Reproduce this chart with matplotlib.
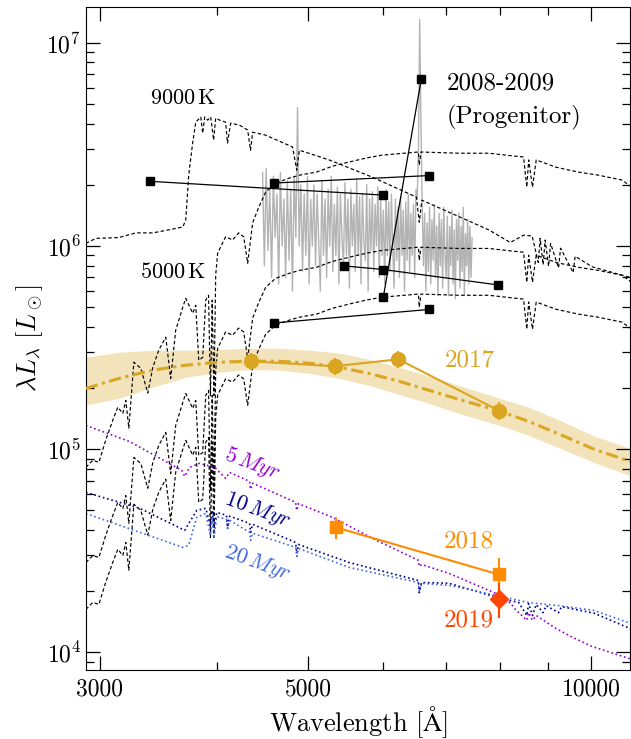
import numpy as np
import matplotlib.pyplot as plt
from matplotlib.ticker import FixedLocator, FixedFormatter, NullFormatter

plt.rcParams['font.family'] = 'serif'
plt.rcParams['font.serif'] = ['cmr10']
plt.rcParams['mathtext.fontset'] = 'cm'
plt.rcParams['axes.formatter.use_mathtext'] = True

# ----------------------------
# Data (wavelength in Angstrom, lambda L_lambda in L_sun)
# ----------------------------
# 9000 K model
hot_wave = [2899, 2971, 3143, 3277, 3416, 3551, 3676, 3703, 3730, 3767, 3795, 3842, 3860,
            3879, 3908, 3937, 3965, 3985, 4024, 4083, 4102, 4134, 4225, 4310, 4340, 4363,
            4504, 4811, 4861, 4892, 5264, 5851, 6517, 6563, 6605, 7782, 8204, 8474, 8655,
            8785, 8826, 8891, 8935, 9010, 9055, 9233, 9279, 9569, 9616, 10025, 11010]
hot_lum = [1.03e6, 1.09e6, 1.10e6, 1.16e6, 1.16e6, 1.20e6, 1.24e6, 1.34e6, 2.23e6, 3.24e6,
           4.07e6, 4.31e6, 3.59e6, 4.31e6, 4.16e6, 4.31e6, 3.32e6, 4.26e6, 4.16e6, 4.07e6,
           3.21e6, 4.02e6, 3.93e6, 3.72e6, 2.96e6, 3.63e6, 3.51e6, 3.07e6, 2.36e6, 2.96e6,
           2.65e6, 2.18e6, 1.74e6, 1.31e6, 1.68e6, 1.20e6, 1.04e6, 1.13e6, 1.12e6, 8.3e5,
           1.09e6, 8.1e5, 1.07e6, 7.95e5, 1.03e6, 7.8e5, 9.75e5, 7.4e5, 8.9e5, 7.9e5, 7.0e5]

# cool model (brightest copy), the two fainter ones have the same shape
cool_wave = [2899, 2949, 2993, 3044, 3097, 3135, 3174, 3197, 3221, 3261, 3317, 3374, 3416,
             3466, 3526, 3569, 3613, 3676, 3703, 3767, 3795, 3823, 3860, 3889, 3916, 3934,
             3951, 3968, 3985, 4004, 4083, 4154, 4216, 4268, 4310, 4363, 4428, 4504, 4616,
             4776, 4892, 5102, 5307, 5528, 5765, 5995, 6327, 6549, 6563, 6590, 7232, 7782,
             8282, 8474, 8542, 8581, 8662, 8742, 9178, 9695, 10180, 10788, 11010]
cool_lum = [8.14e4, 8.82e4, 8.62e4, 1.11e5, 1.39e5, 1.61e5, 1.50e5, 1.74e5, 1.27e5, 2.68e5,
            2.50e5, 1.89e5, 2.53e5, 3.07e5, 3.56e5, 2.23e5, 3.85e5, 4.99e5, 5.53e5, 4.67e5,
            5.11e5, 2.74e5, 2.83e5, 5.41e5, 5.72e5, 1.84e5, 5.41e5, 1.84e5, 7.18e5, 9.21e5,
            1.11e6, 1.07e6, 1.16e6, 1.11e6, 8.23e5, 1.30e6, 1.55e6, 1.84e6, 2.04e6, 2.16e6,
            2.23e6, 2.31e6, 2.47e6, 2.59e6, 2.71e6, 2.80e6, 2.86e6, 2.90e6, 2.50e6, 2.90e6,
            2.86e6, 2.86e6, 2.77e6, 2.74e6, 1.95e6, 2.65e6, 1.95e6, 2.65e6, 2.44e6, 2.31e6,
            2.23e6, 2.11e6, 1.97e6]
cool_scale = [1.0, 0.34, 0.20]

# progenitor spectrum (units of 1e6 L_sun), 4470-7470 A in 20 A steps
spec_lum = [2.3, 0.8, 2.4, 0.95, 1.9, 0.7, 2.2, 1.1, 1.8, 0.65,
            2.3, 1.0, 1.7, 0.7, 2.1, 0.85, 1.9, 0.6, 2.2, 1.1,
            4.8, 1.0, 2.0, 0.75, 1.8, 0.9, 2.2, 0.65, 1.7, 1.0,
            2.0, 0.8, 1.8, 1.05, 0.6, 2.1, 0.9, 1.7, 0.7, 1.9,
            1.0, 2.2, 0.75, 1.6, 0.9, 1.95, 0.65, 1.8, 1.1, 0.8,
            2.05, 0.9, 1.7, 0.62, 1.9, 1.0, 1.6, 0.75, 2.15, 0.9,
            1.75, 0.65, 1.8, 1.05, 0.85, 2.0, 0.6, 1.7, 0.95, 1.85,
            0.75, 1.6, 1.0, 1.95, 0.7, 1.7, 0.9, 1.5, 0.65, 1.9,
            0.9, 1.65, 0.75, 1.8, 1.0, 0.62, 1.7, 0.85, 1.55, 0.7,
            1.75, 0.9, 1.5, 0.6, 1.65, 0.85, 1.8, 0.75, 1.45, 0.9,
            1.6, 0.7, 1.9, 1.7, 3.0, 13.0, 4.0, 1.6,
            0.8, 1.45, 0.6, 1.3, 0.75, 1.55, 0.65, 1.35, 0.85, 1.6,
            0.7, 1.25, 0.57, 1.45, 0.8, 1.35, 0.62, 1.55, 0.9, 0.7,
            1.4, 0.57, 1.25, 0.8, 1.5, 0.65, 1.2, 0.55, 1.35, 0.85,
            1.45, 0.62, 1.25, 0.75, 1.55, 0.57, 1.15, 0.8, 1.35, 0.65,
            1.25, 0.7, 1.1]
spec_wave = np.arange(4470, 7471, 20)

# progenitor photometry 2008-2009 (pairs of filters)
prog_wave = [[3393, 6010], [4596, 6716], [6597, 6010], [5461, 6010, 7964], [4596, 6716]]
prog_lum = [[2.08e6, 1.78e6], [2.04e6, 2.22e6], [6.65e6, 5.62e5],
            [7.98e5, 7.66e5, 6.43e5], [4.18e5, 4.87e5]]

# stellar population models
ssp5_wave = [2899, 3228, 3667, 3694, 3737, 3829, 3975, 4083, 4123, 4330, 4341, 4363, 4847,
             4861, 4880, 5307, 5908, 6549, 6563, 6600, 7057, 7925, 8223, 8282, 8542, 8581,
             8662, 8742, 9178, 9545, 10025, 11010]
ssp5_lum = [1.31e5, 1.09e5, 7.87e4, 7.36e4, 8.14e4, 8.52e4, 8.14e4, 7.19e4, 7.69e4, 6.95e4,
            6.35e4, 6.8e4, 5.48e4, 5.0e4, 5.4e4, 4.62e4, 3.56e4, 2.84e4, 2.65e4, 2.71e4,
            2.45e4, 1.95e4, 1.74e4, 1.65e4, 1.44e4, 1.57e4, 1.44e4, 1.52e4, 1.31e4, 1.19e4,
            1.07e4, 9.3e3]
ssp10_wave = [2899, 3308, 3694, 3737, 3804, 3889, 3934, 3951, 3968, 3995, 4092, 4102, 4123,
              4330, 4341, 4363, 4847, 4861, 4880, 5528, 6549, 6563, 6600, 7057, 7925, 8204,
              8374, 8542, 8581, 8662, 8742, 8891, 8958, 9233, 9302, 10073, 11010]
ssp10_lum = [6.13e4, 5.12e4, 3.99e4, 4.37e4, 5.0e4, 5.12e4, 4.22e4, 5.0e4, 4.08e4, 4.89e4,
             4.73e4, 4.13e4, 4.68e4, 4.32e4, 3.90e4, 4.27e4, 3.48e4, 3.07e4, 3.40e4, 2.77e4,
             2.26e4, 1.97e4, 2.21e4, 2.19e4, 1.87e4, 1.80e4, 1.76e4, 1.52e4, 1.74e4, 1.52e4,
             1.72e4, 1.57e4, 1.70e4, 1.57e4, 1.68e4, 1.56e4, 1.31e4]
ssp20_wave = [2899, 3676, 3730, 3804, 3889, 3934, 3951, 3968, 3995, 4092, 4102, 4123, 4330,
              4341, 4363, 4847, 4861, 4880, 5528, 6549, 6563, 6600, 7057, 7925, 8581, 9233,
              10073, 11010]
ssp20_lum = [4.83e4, 3.29e4, 3.37e4, 4.62e4, 4.83e4, 3.77e4, 4.67e4, 3.64e4, 4.67e4, 4.52e4,
             3.99e4, 4.47e4, 3.90e4, 3.56e4, 3.86e4, 3.29e4, 2.97e4, 3.25e4, 2.62e4, 2.21e4,
             1.97e4, 2.19e4, 2.14e4, 1.91e4, 1.76e4, 1.70e4, 1.61e4, 1.39e4]

# 2017 blackbody fit with uncertainty band
bb_wave = [2899, 3143, 3416, 3703, 4013, 4330, 4659, 5015, 5394, 5804, 6246, 6721, 7232,
           7993, 8581, 9315, 10073, 11010]
bb_lum = [1.99e5, 2.23e5, 2.45e5, 2.59e5, 2.68e5, 2.71e5, 2.71e5, 2.65e5, 2.53e5, 2.36e5,
          2.16e5, 1.95e5, 1.76e5, 1.54e5, 1.37e5, 1.17e5, 1.0e5, 8.7e4]
bb_hi = [2.84e5, 3.00e5, 3.07e5, 3.07e5, 3.10e5, 3.14e5, 3.14e5, 3.07e5, 2.97e5, 2.77e5,
         2.53e5, 2.29e5, 2.06e5, 1.78e5, 1.61e5, 1.37e5, 1.16e5, 1.01e5]
bb_lo = [1.65e5, 1.78e5, 2.02e5, 2.26e5, 2.39e5, 2.47e5, 2.45e5, 2.36e5, 2.23e5, 2.06e5,
         1.86e5, 1.68e5, 1.50e5, 1.31e5, 1.17e5, 1.0e5, 8.6e4, 7.4e4]

# photometry of later epochs
wave17 = [4341, 5333, 6235, 7974]
lum17 = [2.71e5, 2.56e5, 2.77e5, 1.55e5]
err17 = [2.5e4, 2.4e4, 2.6e4, 1.5e4]
wave18 = [5346, 7974]
lum18 = [4.13e4, 2.42e4]
err18 = [5.3e3, 4.8e3]
wave19 = [7974]
lum19 = [1.84e4]
err19 = [3.6e3]

# ----------------------------
# Plot
# ----------------------------
fig = plt.figure(figsize=(6.31, 7.39), dpi=100)
ax = fig.add_axes([0.1363, 0.0934, 0.8621, 0.8972])

ax.fill_between(bb_wave, bb_lo, bb_hi, color='goldenrod', alpha=0.3, lw=0, zorder=0)
ax.plot(spec_wave, np.array(spec_lum) * 1e6, color='0.7', lw=1.0, zorder=1)

ax.plot(hot_wave, hot_lum, color='k', lw=0.85, dashes=(3, 2), zorder=2)
for s in cool_scale:
    ax.plot(cool_wave, np.array(cool_lum) * s, color='k', lw=0.85, dashes=(3, 2), zorder=2)

ax.plot(ssp5_wave, ssp5_lum, color='darkviolet', lw=1.2, ls=':', zorder=2)
ax.plot(ssp10_wave, ssp10_lum, color='darkblue', lw=1.2, ls=':', zorder=2)
ax.plot(ssp20_wave, ssp20_lum, color='royalblue', lw=1.2, ls=':', zorder=2)

for w, l in zip(prog_wave, prog_lum):
    ax.errorbar(w, l, yerr=np.array(l) * 0.03, color='k', lw=0.9, marker='s', ms=6,
                capsize=0, zorder=3)

ax.plot(bb_wave, bb_lum, color='goldenrod', lw=2.2, dashes=(4, 1.5, 1, 1.5), zorder=3)
ax.errorbar(wave17, lum17, yerr=err17, color='goldenrod', lw=1.5, marker='o', ms=10,
            capsize=0, zorder=4)
ax.errorbar(wave18, lum18, yerr=err18, color='darkorange', lw=1.5, marker='s', ms=9,
            capsize=0, zorder=4)
ax.errorbar(wave19, lum19, yerr=err19, color='orangered', lw=1.5, marker='D', ms=9,
            capsize=0, zorder=5)

# labels
ax.text(3390, 5.34e6, r'$9000\,\mathrm{K}$', fontsize=16, va='center')
ax.text(3308, 7.43e5, r'$5000\,\mathrm{K}$', fontsize=16, va='center')
ax.text(7015, 6.33e6, '2008-2009', fontsize=18, va='center')
ax.text(7015, 4.31e6, '(Progenitor)', fontsize=18, va='center')
ax.text(6980, 2.74e5, '2017', fontsize=18, va='center', color='goldenrod')
ax.text(6962, 3.52e4, '2018', fontsize=18, va='center', color='darkorange')
ax.text(6962, 1.44e4, '2019', fontsize=18, va='center', color='orangered')
ax.text(4363, 8.52e4, r'$5\,Myr$', fontsize=16, color='darkviolet', rotation=-20,
        ha='center', va='center', rotation_mode='anchor')
ax.text(4417, 5.0e4, r'$10\,Myr$', fontsize=16, color='darkblue', rotation=-20,
        ha='center', va='center', rotation_mode='anchor')
ax.text(4417, 2.74e4, r'$20\,Myr$', fontsize=16, color='royalblue', rotation=-20,
        ha='center', va='center', rotation_mode='anchor')

ax.set_xscale('log')
ax.set_yscale('log')
ax.set_xlim(2900, 11000)
ax.set_ylim(8.2e3, 1.5e7)
ax.xaxis.set_major_locator(FixedLocator([3000, 5000, 10000]))
ax.xaxis.set_major_formatter(FixedFormatter(['3000', '5000', '10000']))
ax.xaxis.set_minor_locator(FixedLocator([4000, 6000, 7000, 8000, 9000]))
ax.xaxis.set_minor_formatter(NullFormatter())
ax.tick_params(which='both', direction='in', top=True, right=True, labelsize=17, width=0.9)
ax.tick_params(which='major', length=10)
ax.tick_params(which='minor', length=6)
ax.tick_params(axis='x', pad=6)

ax.set_xlabel(r'Wavelength [$\mathrm{\AA}$]', fontsize=19)
ax.set_ylabel(r'$\lambda L_\lambda\ [L_\odot]$', fontsize=19)
ax.xaxis.set_label_coords(0.5, -0.052)
ax.yaxis.set_label_coords(-0.075, 0.5)

fig.savefig('out.png', dpi=100)
